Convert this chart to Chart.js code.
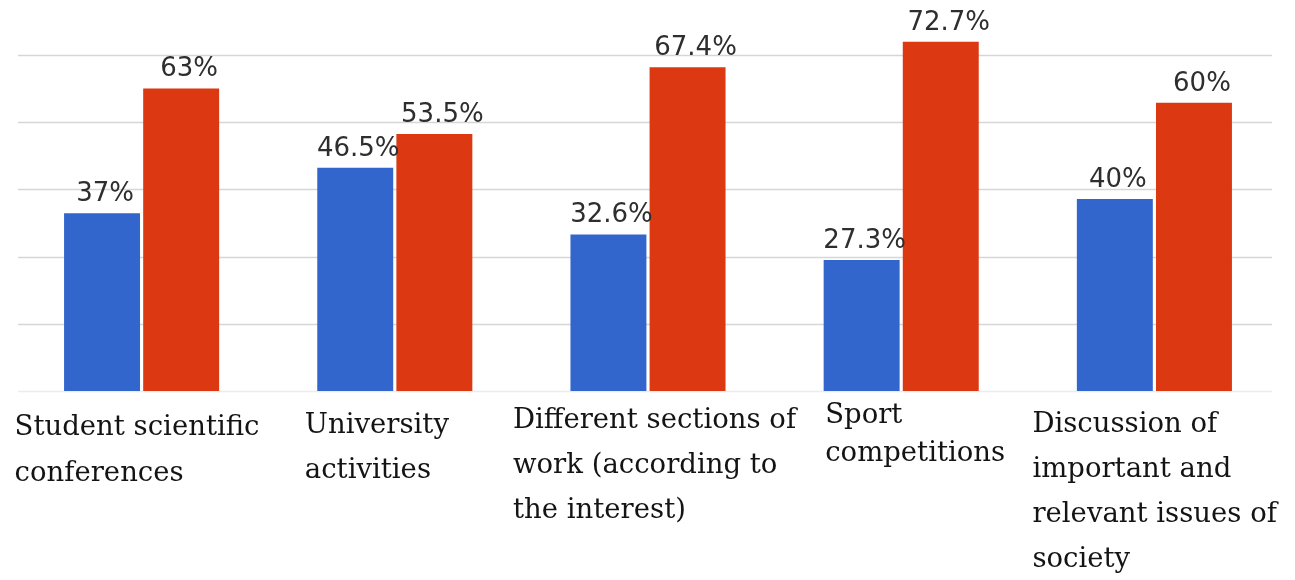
<!DOCTYPE html>
<html>
<head>
<meta charset="utf-8">
<script src="https://cdn.jsdelivr.net/npm/chart.js@4/dist/chart.umd.min.js"></script>
<style>
  html, body { margin: 0; padding: 0; background: #ffffff; }
  #wrap { width: 1295px; height: 580px; position: relative; }
</style>
</head>
<body>
<div id="wrap"><canvas id="c"></canvas></div>
<script>
// ---- data ----
const categories = [
  ["Student scientific", "conferences"],
  ["University", "activities"],
  ["Different sections of", "work (according to", "the interest)"],
  ["Sport", "competitions"],
  ["Discussion of", "important and", "relevant issues of", "society"]
];
const seriesBlue = [37, 46.5, 32.6, 27.3, 40];
const seriesRed  = [63, 53.5, 67.4, 72.7, 60];
const yTickStep = 14;
const yMax = 76;

// ---- layout for category text (offset from category centre, first baseline, line height) ----
const labelLayout = [
  { dx: -127, y: 435, lh: 46 },
  { dx: -90,  y: 433, lh: 45 },
  { dx: -135, y: 428, lh: 45 },
  { dx: -76,  y: 423, lh: 38 },
  { dx: -122, y: 432, lh: 45 }
];

const gridPlugin = {
  id: 'gridLines',
  beforeDatasetsDraw(chart) {
    const { ctx, chartArea, scales } = chart;
    const y = scales.y;
    const x0 = chartArea.left + 3, x1 = chartArea.right - 9;
    ctx.save();
    y.ticks.forEach(t => {
      if (t.value % yTickStep !== 0) return;
      const py = Math.round(y.getPixelForValue(t.value)) + 0.5;
      ctx.strokeStyle = t.value === 0 ? '#ececec' : '#d6d6d6';
      ctx.lineWidth = 1.6;
      ctx.beginPath();
      ctx.moveTo(x0, py);
      ctx.lineTo(x1, py);
      ctx.stroke();
    });
    ctx.restore();
  }
};

const valueLabelPlugin = {
  id: 'valueLabels',
  afterDatasetsDraw(chart) {
    const { ctx } = chart;
    ctx.save();
    ctx.font = '26px "DejaVu Sans", sans-serif';
    ctx.fillStyle = '#2e2e2e';
    ctx.textAlign = 'center';
    ctx.textBaseline = 'alphabetic';
    chart.data.datasets.forEach((ds, di) => {
      const meta = chart.getDatasetMeta(di);
      meta.data.forEach((bar, i) => {
        const off = di === 0 ? 3 : 8;
        ctx.fillText(ds.data[i] + '%', bar.x + off, bar.y - 12);
      });
    });
    ctx.restore();
  }
};

const categoryLabelPlugin = {
  id: 'categoryLabels',
  afterDraw(chart) {
    const { ctx, scales } = chart;
    const xs = scales.x;
    ctx.save();
    ctx.font = '27.5px "DejaVu Serif", serif';
    ctx.fillStyle = '#141414';
    ctx.textAlign = 'left';
    ctx.textBaseline = 'alphabetic';
    chart.data.labels.forEach((lines, i) => {
      const L = labelLayout[i];
      const cx = xs.getPixelForValue(i);
      lines.forEach((line, k) => {
        ctx.fillText(line, cx + L.dx, L.y + k * L.lh);
      });
    });
    ctx.restore();
  }
};

new Chart(document.getElementById('c'), {
  type: 'bar',
  data: {
    labels: categories,
    datasets: [
      { label: 'Series 1', data: seriesBlue, backgroundColor: '#3366cc',
        categoryPercentage: 0.625, barPercentage: 0.96 },
      { label: 'Series 2', data: seriesRed, backgroundColor: '#dc3912',
        categoryPercentage: 0.625, barPercentage: 0.96 }
    ]
  },
  options: {
    responsive: true,
    maintainAspectRatio: false,
    animation: false,
    layout: { padding: { left: 15, right: 14, top: 26, bottom: 189 } },
    plugins: { legend: { display: false }, tooltip: { enabled: false } },
    scales: {
      x: { display: false, grid: { display: false } },
      y: { display: false, min: 0, max: yMax, ticks: { stepSize: yTickStep }, grid: { display: false } }
    }
  },
  plugins: [gridPlugin, valueLabelPlugin, categoryLabelPlugin]
});
</script>
</body>
</html>
